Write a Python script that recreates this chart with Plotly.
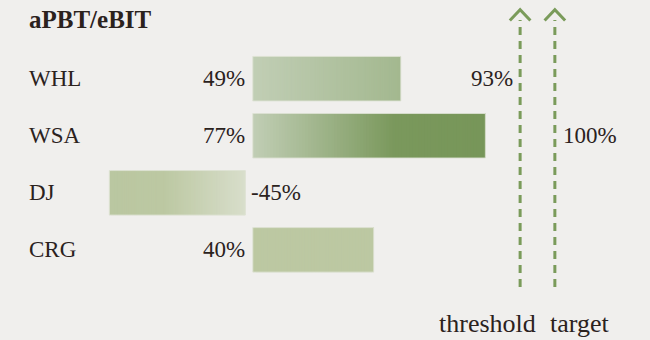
import plotly.graph_objects as go

# data
companies = ["WHL", "WSA", "DJ", "CRG"]
values = [49, 77, -45, 40]
value_labels = ["49%", "77%", "-45%", "40%"]
outcome_labels = ["93%", "100%", "", ""]
threshold = 88.5
target = 100
title = "aPBT/eBIT"

# style
BG = "#f0efed"
TEXT = "#2b221d"
GREEN = "#7a9b5a"
FONT = "Liberation Serif"
gradients = {
    "WHL": [(0, (193, 206, 181)), (1, (163, 184, 143))],
    "WSA": [(0, (193, 206, 181)), (0.61, (122, 152, 92)), (1, (119, 150, 89))],
    "DJ": [(0, (186, 199, 161)), (0.4, (188, 200, 162)), (1, (216, 222, 203))],
    "CRG": [(0, (188, 200, 162)), (1, (188, 200, 162))],
}
NEG_GAP = 2.5
N = 80
BAR_W = 0.78


def color_at(stops, t):
    for (t0, c0), (t1, c1) in zip(stops, stops[1:]):
        if t <= t1:
            f = 0 if t1 == t0 else (t - t0) / (t1 - t0)
            c = [round(a + (b - a) * f) for a, b in zip(c0, c1)]
            return "rgb(%d,%d,%d)" % tuple(c)
    return "rgb(%d,%d,%d)" % stops[-1][1]


fig = go.Figure()

for i, (name, v) in enumerate(zip(companies, values)):
    if v >= 0:
        s, e = 0, v
    else:
        s, e = v - NEG_GAP, -NEG_GAP
    step = (e - s) / N
    starts = [s + step * k for k in range(N)]
    # segments overlap the next one to avoid seams
    fig.add_trace(go.Bar(
        y=[i] * N,
        x=[min(2 * step, e - b) for b in starts],
        base=starts,
        orientation="h",
        width=BAR_W,
        marker=dict(color=[color_at(gradients[name], (k + 0.5) / N) for k in range(N)],
                    line_width=0),
        hoverinfo="skip",
        showlegend=False,
    ))
    # thin light edge
    fig.add_trace(go.Bar(
        y=[i], x=[e - s], base=[s], orientation="h", width=BAR_W,
        marker=dict(color="rgba(0,0,0,0)", line=dict(color="rgba(222,226,212,0.9)", width=1)),
        hoverinfo="skip", showlegend=False,
    ))

# threshold / target arrows
for xv in [threshold, target]:
    fig.add_trace(go.Scatter(
        x=[xv, xv], y=[3.65, -1.03], mode="lines",
        line=dict(color=GREEN, width=3, dash="8px,6px"),
        hoverinfo="skip", showlegend=False,
    ))
    fig.add_trace(go.Scatter(
        x=[xv - 3.4, xv, xv + 3.4], y=[-1.02, -1.21, -1.02], mode="lines",
        line=dict(color=GREEN, width=3),
        hoverinfo="skip", showlegend=False,
    ))

font = dict(family=FONT, size=23, color=TEXT)
big = dict(family=FONT, size=26, color=TEXT)
ann = []
for i, (name, v, lab) in enumerate(zip(companies, values, value_labels)):
    ann.append(dict(x=0.042, xref="paper", y=i, text=name,
                    xanchor="left", showarrow=False, font=font))
    if v >= 0:
        ann.append(dict(x=0, y=i, text=lab, xanchor="right", xshift=-6,
                        showarrow=False, font=font))
    else:
        ann.append(dict(x=0, y=i, text=lab, xanchor="left", xshift=-4,
                        showarrow=False, font=font))

ann.append(dict(x=threshold, y=0, text=outcome_labels[0], xanchor="right",
                xshift=-5, showarrow=False, font=font))
ann.append(dict(x=target, y=1, text=outcome_labels[1], xanchor="left",
                xshift=6, showarrow=False, font=font))
ann.append(dict(x=threshold, y=0, yref="paper", yanchor="bottom", text="threshold",
                xanchor="right", xshift=18, showarrow=False, font=big))
ann.append(dict(x=target, y=0, yref="paper", yanchor="bottom", text="target",
                xanchor="left", xshift=-7, showarrow=False, font=big))
ann.append(dict(x=0.042, xref="paper", y=1, yref="paper", yanchor="top", yshift=-4,
                text="<b>%s</b>" % title, xanchor="left", showarrow=False,
                font=dict(family=FONT, size=25, color=TEXT)))

fig.update_layout(
    width=650, height=340,
    margin=dict(l=0, r=0, t=0, b=0),
    paper_bgcolor=BG, plot_bgcolor=BG,
    barmode="overlay",
    xaxis=dict(range=[-83.7, 131.5], visible=False),
    yaxis=dict(range=[4.58, -1.38], visible=False),
    annotations=ann,
)

fig.write_html("out.html", config={"displayModeBar": False},
               post_script="document.body.style.margin='0';")
